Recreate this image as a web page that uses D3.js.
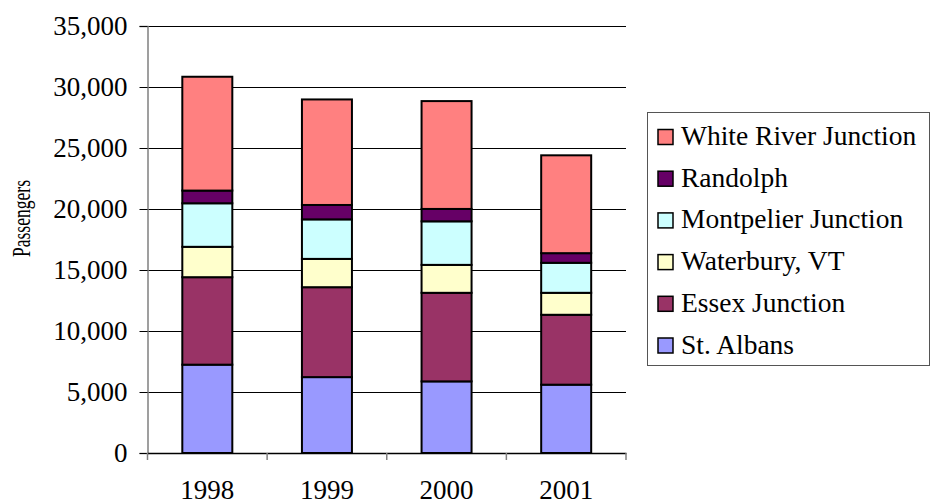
<!DOCTYPE html>
<html>
<head>
<meta charset="utf-8">
<script src="https://cdn.jsdelivr.net/npm/d3@7"></script>
<style>
  html, body { margin: 0; padding: 0; background: #fff; }
  svg { display: block; }
  svg text { font-family: "Liberation Serif", "Times New Roman", serif !important; }
</style>
</head>
<body>
<svg id="chart" width="932" height="501"></svg>
<script>
const years = ["1998", "1999", "2000", "2001"];
const stations = ["St. Albans", "Essex Junction", "Waterbury, VT", "Montpelier Junction", "Randolph", "White River Junction"];
const stAlbans        = [7240, 6220, 5870, 5600];
const essexJunction   = [7170, 7370, 7260, 5730];
const waterbury       = [2490, 2320, 2290, 1800];
const montpelier      = [3570, 3240, 3570, 2460];
const randolph        = [1040, 1180, 1015, 790];
const whiteRiver      = [9330, 8650, 8840, 8020];
const colors = ["#9999FF", "#993366", "#FFFFCC", "#CCFFFF", "#660066", "#FF8080"];
const yTicks = [0, 5000, 10000, 15000, 20000, 25000, 30000, 35000];

const seriesValues = [stAlbans, essexJunction, waterbury, montpelier, randolph, whiteRiver];
const table = years.map((yr, i) => {
  const row = { year: yr };
  stations.forEach((s, j) => { row[s] = seriesValues[j][i]; });
  return row;
});
const stacked = d3.stack().keys(stations)(table);

const svg = d3.select("#chart");
const plotLeft = 147.5, plotRight = 626, plotTop = 26, plotBottom = 453;

const x = d3.scaleBand().domain(years).range([plotLeft, plotRight])
  .paddingInner(0.582).paddingOuter(0.291);
const y = d3.scaleLinear().domain([0, 35000]).range([plotBottom, plotTop]);

// gridlines
svg.append("g").selectAll("line").data(yTicks.filter(d => d > 0)).join("line")
  .attr("x1", plotLeft).attr("x2", plotRight)
  .attr("y1", d => Math.round(y(d)) + 0.5).attr("y2", d => Math.round(y(d)) + 0.5)
  .attr("stroke", "#000").attr("stroke-width", 1);

// bars
const groups = svg.append("g").selectAll("g").data(stacked).join("g")
  .attr("fill", (d, i) => colors[i]);
groups.selectAll("rect").data(d => d).join("rect")
  .attr("x", d => x(d.data.year))
  .attr("width", x.bandwidth())
  .attr("y", d => y(d[1]))
  .attr("height", d => y(d[0]) - y(d[1]))
  .attr("stroke", "#000").attr("stroke-width", 2);

// y axis
const yAxis = svg.append("g").attr("transform", `translate(${plotLeft},0)`)
  .call(d3.axisLeft(y).tickValues(yTicks).tickSize(8).tickPadding(12)
    .tickFormat(d3.format(",")));
yAxis.select(".domain").attr("stroke", "#808080").attr("stroke-width", 1.5);
yAxis.selectAll(".tick line").attr("stroke", "#000");
yAxis.selectAll(".tick text").attr("font-size", 27).attr("fill", "#000");

// x axis
const xAxis = svg.append("g").attr("transform", `translate(0,${plotBottom})`)
  .call(d3.axisBottom(x).tickSize(0).tickPadding(0));
xAxis.select(".domain").attr("stroke", "#000").attr("stroke-width", 1.5);
xAxis.selectAll(".tick text").attr("font-size", 27).attr("fill", "#000")
  .attr("dy", 0).attr("y", 46);
// category boundary ticks
const bounds = years.map(yr => x(yr) - x.step() * x.paddingInner() / 2);
bounds.push(plotRight);
svg.append("g").selectAll("line").data(bounds).join("line")
  .attr("x1", d => d).attr("x2", d => d)
  .attr("y1", plotBottom).attr("y2", plotBottom + 7)
  .attr("stroke", "#808080").attr("stroke-width", 1.5);

// axis title
svg.append("text")
  .attr("transform", `translate(30,${(180 + 257) / 2}) rotate(-90)`)
  .attr("text-anchor", "middle")
  .attr("font-size", 25)
  .attr("textLength", 77)
  .attr("lengthAdjust", "spacingAndGlyphs")
  .text("Passengers");

// legend
const legend = svg.append("g");
legend.append("rect").attr("x", 647.5).attr("y", 112.5).attr("width", 282).attr("height", 253)
  .attr("fill", "#fff").attr("stroke", "#555").attr("stroke-width", 1);
const legendOrder = stations.slice().reverse();
const lg = legend.selectAll("g.item").data(legendOrder).join("g").attr("class", "item")
  .attr("transform", (d, i) => `translate(0,${137 + i * 41.7})`);
lg.append("rect").attr("x", 658).attr("y", -7.5).attr("width", 15).attr("height", 15)
  .attr("fill", d => colors[stations.indexOf(d)]).attr("stroke", "#000").attr("stroke-width", 1.5);
lg.append("text").attr("x", 681).attr("y", 8).attr("font-size", 27.5).text(d => d);
</script>
</body>
</html>
